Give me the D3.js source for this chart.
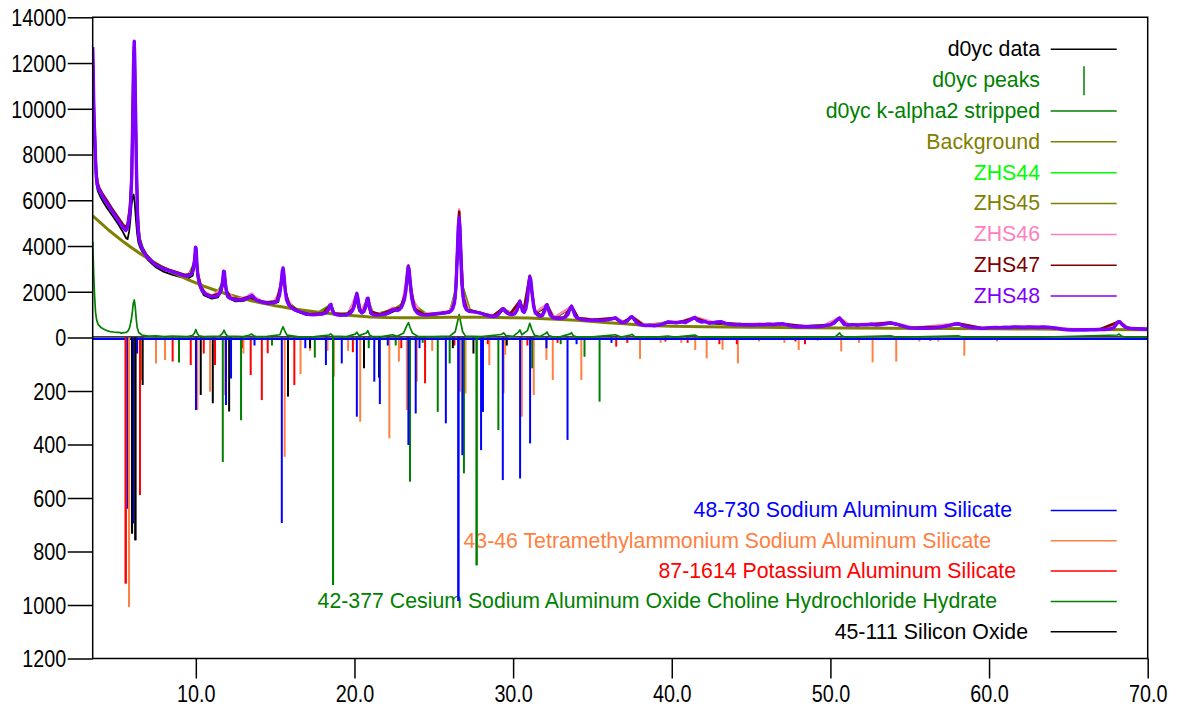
<!DOCTYPE html>
<html>
<head>
<meta charset="utf-8">
<script src="https://cdn.jsdelivr.net/npm/d3@7"></script>
<style>
  html, body { margin: 0; padding: 0; background: #fff; }
  svg { display: block; font-family: "Liberation Sans", Arial, sans-serif; }
</style>
</head>
<body>
<svg id="chart" width="1186" height="707"></svg>
<script>
// ---------- Measured scans: [2-theta, counts] ----------
const zhs48 = [
  [3.50,12700],[3.53,11800],[3.56,10400],[3.60,9300],[3.64,8700],[3.68,7700],[3.72,7100],[3.76,6800],
  [3.82,6600],[3.90,6450],[4.00,6350],[4.05,6300],[4.10,6200],[4.20,6080],[4.30,5960],[4.40,5870],[4.50,5760],
  [4.60,5660],[4.70,5540],[4.80,5450],[4.90,5330],[5.00,5240],[5.10,5130],[5.20,5020],[5.30,4930],
  [5.40,4820],[5.50,4740],[5.58,4680],[5.66,4760],[5.74,4950],[5.80,5250],[5.86,5600],[5.92,6300],
  [5.97,7200],[6.01,9000],[6.05,11000],[6.09,12500],[6.12,12950],[6.15,12200],[6.18,10800],[6.21,9600],
  [6.24,8000],[6.28,6600],[6.32,5500],[6.36,4800],[6.42,4350],[6.50,4080],[6.60,3900],[6.70,3760],
  [6.80,3640],[6.90,3540],[7.00,3470],[7.10,3420],[7.20,3330],[7.30,3290],[7.40,3200],[7.60,3130],[7.80,3060],[8.00,2990],
  [8.20,2950],[8.40,2900],[8.60,2860],[8.80,2810],[9.00,2760],[9.20,2720],[9.40,2680],[9.60,2720],
  [9.75,2800],[9.85,3000],[9.92,3400],[9.98,3950],[10.02,3900],[10.07,3200],[10.13,2700],[10.20,2450],
  [10.30,2220],[10.40,2050],[10.55,1930],[10.70,1860],[10.90,1800],[11.10,1780],[11.30,1800],[11.45,1880],
  [11.58,2050],[11.68,2400],[11.75,2900],[11.80,2880],[11.86,2400],[11.93,2000],[12.00,1820],[12.15,1720],
  [12.30,1680],[12.50,1640],[12.70,1640],[12.90,1650],[13.10,1680],[13.30,1720],[13.45,1800],[13.55,1830],
  [13.65,1760],[13.80,1640],[14.00,1590],[14.20,1550],[14.40,1510],[14.60,1500],[14.80,1510],[15.00,1530],
  [15.15,1620],[15.28,1850],[15.38,2400],[15.45,2900],[15.50,3040],[15.56,2700],[15.63,2100],[15.72,1650],
  [15.85,1440],[16.00,1320],[16.20,1220],[16.40,1160],[16.60,1110],[16.80,1060],[17.00,1020],[17.20,1000],
  [17.40,990],[17.60,1000],[17.80,1020],[18.00,1040],[18.20,1080],[18.35,1200],[18.45,1420],[18.52,1450],
  [18.60,1200],[18.72,1040],[18.90,990],[19.10,970],[19.30,980],[19.50,990],[19.70,1050],[19.85,1150],
  [19.98,1350],[20.08,1750],[20.15,1930],[20.22,1700],[20.32,1250],[20.45,1080],[20.60,1140],[20.72,1350],
  [20.80,1700],[20.86,1720],[20.93,1400],[21.05,1060],[21.20,990],[21.40,980],[21.60,990],[21.80,1010],
  [22.00,1040],[22.20,1100],[22.40,1200],[22.55,1220],[22.70,1180],[22.85,1230],[23.00,1380],[23.15,1650],
  [23.25,2100],[23.32,2700],[23.38,3100],[23.44,3000],[23.52,2400],[23.60,1800],[23.70,1420],[23.82,1200],
  [23.95,1080],[24.10,1020],[24.30,990],[24.50,980],[24.70,990],[24.90,1010],[25.10,1030],[25.30,1050],
  [25.50,1060],[25.70,1080],[25.90,1100],[26.05,1140],[26.18,1240],[26.30,1500],[26.40,2200],[26.48,3600],
  [26.54,4800],[26.60,5250],[26.65,4800],[26.70,3700],[26.76,2500],[26.84,1800],[26.93,1400],[27.05,1220],
  [27.20,1150],[27.40,1130],[27.60,1110],[27.80,1090],[28.00,1050],[28.20,1000],[28.40,960],[28.60,930],
  [28.80,920],[29.00,960],[29.15,1080],[29.30,1230],[29.40,1260],[29.50,1140],[29.65,1050],[29.80,1010],
  [29.95,1000],[30.10,1040],[30.25,1200],[30.35,1450],[30.43,1580],[30.50,1380],[30.60,1150],[30.70,1100],
  [30.80,1250],[30.90,1650],[30.98,2300],[31.05,2650],[31.12,2500],[31.20,1900],[31.30,1350],[31.40,1080],
  [31.55,980],[31.70,930],[31.85,960],[31.98,1150],[32.08,1400],[32.15,1430],[32.23,1200],[32.35,970],
  [32.50,870],[32.70,840],[32.90,830],[33.10,850],[33.30,900],[33.45,1000],[33.58,1250],[33.68,1370],
  [33.78,1200],[33.90,950],[34.05,850],[34.30,790],[34.60,760],[34.90,750],[35.20,760],[35.50,740],
  [35.80,760],[36.10,790],[36.30,830],[36.45,860],[36.60,770],[36.80,660],[37.00,650],[37.20,720],
  [37.40,890],[37.50,910],[37.62,800],[37.80,640],[38.00,560],[38.30,520],[38.60,530],[38.90,510],
  [39.20,540],[39.50,600],[39.75,680],[40.00,660],[40.30,640],[40.60,690],[40.85,650],[41.10,740],
  [41.30,820],[41.45,880],[41.60,760],[41.85,680],[42.10,700],[42.35,620],[42.60,650],[42.85,680],
  [43.10,690],[43.40,620],[43.70,580],[44.00,550],[44.30,570],[44.60,540],[44.90,560],[45.20,540],
  [45.50,570],[45.80,550],[46.10,580],[46.40,560],[46.70,590],[47.00,600],[47.30,540],[47.60,500],
  [47.90,470],[48.20,480],[48.50,470],[48.80,480],[49.10,470],[49.40,480],[49.70,520],[50.00,560],
  [50.25,640],[50.45,800],[50.58,850],[50.70,720],[50.85,580],[51.10,540],[51.40,560],[51.70,530],
  [52.00,560],[52.30,550],[52.60,580],[52.90,540],[53.20,570],[53.50,600],[53.80,640],[54.05,600],
  [54.30,560],[54.60,500],[54.90,430],[55.20,410],[55.50,400],[55.80,410],[56.10,400],[56.40,410],
  [56.70,430],[57.00,460],[57.30,500],[57.60,540],[57.85,590],[58.05,600],[58.30,530],[58.60,470],
  [58.90,440],[59.20,420],[59.50,400],[59.80,410],[60.10,430],[60.40,440],[60.70,430],[61.00,450],
  [61.30,440],[61.60,460],[61.90,450],[62.20,440],[62.50,460],[62.80,450],[63.10,440],[63.40,460],
  [63.70,450],[64.00,430],[64.30,400],[64.60,360],[64.90,340],[65.20,330],[65.50,330],[65.80,340],
  [66.10,330],[66.40,340],[66.70,340],[67.00,350],[67.30,350],[67.60,370],[67.85,420],[68.00,560],
  [68.12,680],[68.25,690],[68.40,560],[68.60,440],[68.90,400],[69.20,380],[69.50,370],[69.80,360],[70.00,360]
];

const zhs47 = [
  [3.5,12400],[3.55,10600],[3.6,9400],[3.66,8200],[3.72,7300],[3.8,6800],[3.9,6550],[4.1,6300],[4.4,5980],
  [4.7,5650],[5.0,5350],[5.3,5050],[5.55,4800],[5.7,4950],[5.85,5700],[5.95,7000],[6.02,9500],[6.08,12200],
  [6.12,12850],[6.17,11500],[6.22,9200],[6.28,6800],[6.35,5000],[6.45,4300],[6.6,3950],[6.9,3600],[7.3,3300],
  [7.8,3100],[8.3,2960],[8.8,2850],[9.3,2730],[9.7,2780],[9.9,3300],[10.0,3900],[10.1,2900],[10.3,2260],
  [10.6,1920],[11.0,1810],[11.5,1920],[11.7,2500],[11.78,2900],[11.9,2100],[12.2,1720],[12.8,1660],[13.4,1790],
  [13.9,1620],[14.5,1530],[15.1,1580],[15.35,2300],[15.5,3000],[15.65,2000],[15.9,1420],[16.5,1140],[17.2,1020],
  [18.0,1060],[18.5,1440],[18.7,1060],[19.5,1010],[19.9,1250],[20.15,1900],[20.35,1200],[20.55,1120],[20.84,1720],
  [21.0,1150],[21.6,1010],[22.4,1230],[22.9,1300],[23.2,1900],[23.4,3150],[23.55,2200],[23.8,1250],[24.4,1000],
  [25.4,1060],[26.1,1160],[26.35,1700],[26.5,4000],[26.6,5500],[26.7,3900],[26.85,1800],[27.1,1200],[27.8,1100],
  [28.7,930],[29.35,1280],[29.8,1020],[30.43,1600],[30.65,1120],[31.05,2700],[31.35,1150],[31.8,950],[32.13,1450],
  [32.5,880],[33.2,860],[33.68,1380],[34.1,850],[35.0,770],[36.4,850],[36.9,660],[37.5,900],[38.2,540],[39.2,540],
  [39.75,690],[40.5,660],[41.45,870],[42.3,650],[43.5,620],[45.0,560],[47.0,600],[48.5,480],[50.0,560],[50.58,860],
  [51.0,550],[52.5,570],[53.8,650],[55.0,420],[57.0,470],[58.05,610],[59.5,410],[61.5,460],[63.5,460],[65.0,340],
  [67.0,360],[68.2,700],[68.7,420],[70,370]
];

const zhs46 = [
  [3.5,12200],[3.56,10200],[3.62,8800],[3.7,7400],[3.8,6700],[4.0,6380],[4.4,5900],[4.8,5480],[5.2,5060],
  [5.55,4760],[5.75,5000],[5.9,6000],[6.0,8800],[6.1,12400],[6.16,11300],[6.25,8000],[6.35,5000],[6.5,4120],
  [6.8,3680],[7.4,3230],[8.0,3010],[8.8,2840],[9.5,2710],[9.85,3000],[10.0,3850],[10.1,2800],[10.4,2080],
  [11.0,1810],[11.6,2100],[11.78,2880],[11.95,1980],[12.5,1680],[13.2,1760],[13.45,1900],[13.55,1920],[13.7,1770],
  [14.2,1580],[14.9,1540],[15.3,2000],[15.5,2980],[15.7,1750],[16.2,1230],[17.0,1030],[18.0,1050],[18.5,1430],
  [18.75,1030],[19.6,1020],[20.15,1920],[20.4,1120],[20.84,1700],[21.1,1060],[21.8,1040],[22.3,1260],[22.5,1300],
  [22.7,1230],[23.0,1400],[23.4,3080],[23.65,1700],[24.2,1030],[25.2,1070],[26.0,1130],[26.35,1800],[26.52,4500],
  [26.6,5600],[26.68,4500],[26.85,1900],[27.2,1200],[28.2,1030],[28.9,950],[29.35,1270],[30.0,1030],[30.43,1600],
  [30.7,1120],[31.05,2650],[31.4,1100],[32.13,1440],[32.6,880],[33.68,1360],[34.1,860],[35.5,770],[36.45,880],
  [37.0,670],[37.5,920],[38.3,550],[39.5,620],[40.6,700],[41.45,900],[42.6,670],[44.0,580],[46.0,600],[47.9,500],
  [49.5,500],[50.58,870],[51.2,560],[53.8,660],[55.3,430],[58.05,620],[59.6,420],[62.0,470],[64.0,450],[65.3,350],
  [67.5,380],[68.2,710],[68.8,420],[70,380]
];

const zhs45 = [
  [3.5,11900],[3.57,9900],[3.65,8300],[3.75,6900],[3.9,6400],[4.3,5920],[4.8,5420],[5.3,4900],[5.6,4650],
  [5.8,5200],[5.95,6800],[6.05,10800],[6.12,12600],[6.2,9800],[6.3,6000],[6.45,4300],[6.8,3620],[7.5,3150],
  [8.5,2870],[9.5,2690],[9.9,3200],[10.0,3800],[10.15,2600],[10.5,1960],[11.2,1780],[11.65,2300],[11.78,2850],
  [11.95,1950],[12.6,1640],[13.5,1800],[14.3,1530],[15.2,1600],[15.5,2950],[15.75,1600],[16.5,1140],[17.5,1000],
  [18.5,1420],[18.8,1000],[19.8,1080],[20.15,1880],[20.4,1100],[20.84,1680],[21.2,1000],[22.4,1200],[23.1,1500],
  [23.4,3050],[23.7,1450],[24.6,990],[26.0,1110],[26.4,2100],[26.6,5150],[26.78,2300],[27.3,1150],[28.7,930],
  [29.4,1250],[30.0,1010],[30.43,1560],[30.7,1100],[31.05,2620],[31.4,1080],[32.13,1410],[32.6,860],[33.68,1340],
  [34.1,840],[35.5,750],[36.45,850],[37.0,650],[37.5,900],[38.3,530],[39.75,670],[40.6,680],[41.45,860],[42.6,650],
  [44.0,560],[46.0,580],[48.0,480],[50.0,550],[50.58,830],[51.0,550],[53.8,630],[55.3,410],[58.05,590],[59.6,410],
  [62.0,450],[64.0,440],[65.3,330],[67.5,360],[68.2,680],[68.8,410],[70,360]
];

const zhs44 = [
  [3.5,12100],[3.57,10000],[3.65,8400],[3.75,6950],[3.9,6420],[4.3,5950],[4.8,5430],[5.3,4920],[5.6,4660],
  [5.8,5300],[5.93,6500],[6.03,10000],[6.11,12700],[6.18,10500],[6.28,6500],[6.4,4500],[6.8,3640],[7.5,3160],
  [8.5,2880],[9.5,2700],[9.9,3250],[10.0,3880],[10.15,2620],[10.5,1970],[11.2,1790],[11.65,2350],[11.78,2880],
  [11.95,1960],[12.6,1650],[13.5,1810],[14.3,1540],[15.2,1610],[15.5,3000],[15.75,1610],[16.5,1150],[17.5,1010],
  [18.5,1440],[18.8,1010],[19.8,1090],[20.15,1900],[20.4,1110],[20.84,1700],[21.2,1010],[22.4,1210],[23.1,1520],
  [23.4,3080],[23.7,1460],[24.6,1000],[26.0,1120],[26.4,2150],[26.6,5200],[26.78,2350],[27.3,1160],[28.7,940],
  [29.4,1260],[30.0,1020],[30.43,1570],[30.7,1110],[31.05,2640],[31.4,1090],[32.13,1420],[32.6,870],[33.68,1350],
  [34.1,850],[35.5,760],[36.45,860],[37.0,660],[37.5,910],[38.3,540],[39.75,680],[40.6,690],[41.45,870],[42.6,660],
  [44.0,570],[46.0,590],[48.0,490],[50.0,560],[50.58,840],[51.0,560],[53.8,640],[55.3,420],[58.05,600],[59.6,420],
  [62.0,460],[64.0,450],[65.3,340],[67.5,370],[68.2,690],[68.8,420],[70,370]
];

const d0ycData = [
  [3.50,12300],[3.54,11000],[3.58,9500],[3.63,8200],[3.68,7300],[3.74,6700],[3.82,6400],[3.95,6200],[4.2,5880],
  [4.5,5560],[4.8,5270],[5.1,4960],[5.4,4620],[5.6,4350],[5.7,4300],[5.8,4650],[5.88,5200],[5.95,5800],[6.02,6150],
  [6.08,6250],[6.15,5900],[6.22,5200],[6.3,4550],[6.38,4150],[6.5,3920],[6.7,3650],[7.0,3370],[7.5,3060],[8.0,2870],
  [8.5,2750],[9.0,2650],[9.5,2580],[9.8,2700],[9.95,3300],[10.02,3400],[10.1,2700],[10.25,2200],[10.5,1850],
  [11.0,1700],[11.4,1760],[11.65,2100],[11.78,2500],[11.85,2300],[12.0,1750],[12.5,1580],[13.0,1600],[13.5,1700],
  [14.0,1520],[14.6,1450],[15.2,1550],[15.4,2300],[15.5,2700],[15.6,2200],[15.8,1450],[16.3,1160],[17.0,980],
  [18.0,1000],[18.5,1350],[18.7,1000],[19.5,950],[20.1,1700],[20.3,1150],[20.5,1050],[20.84,1600],[21.0,1050],
  [22.0,1000],[22.5,1150],[23.0,1300],[23.38,2800],[23.6,1650],[24.0,1050],[25.0,990],[26.0,1080],[26.4,2000],
  [26.6,4900],[26.75,2300],[27.0,1300],[28.0,1030],[28.8,900],[29.4,1200],[30.0,980],[30.43,1500],[30.7,1080],
  [31.05,2500],[31.4,1050],[32.13,1350],[32.6,830],[33.68,1300],[34.0,830],[35.0,740],[36.45,830],[37.0,630],
  [37.5,880],[38.2,520],[39.75,640],[40.6,660],[41.45,830],[42.5,620],[44.0,530],[46.0,560],[48.0,460],[50.0,530],
  [50.58,800],[51.0,530],[53.8,610],[55.5,390],[58.05,570],[59.5,390],[62.0,440],[64.0,420],[65.5,320],[67.5,350],
  [68.2,650],[68.6,420],[70,350]
];

const background = [
  [3.5,5320],[4.0,5010],[4.5,4700],[5.0,4420],[5.5,4150],[6.0,3900],[6.5,3660],[7.0,3440],[7.5,3230],[8.0,3040],
  [8.5,2860],[9.0,2690],[9.5,2530],[10.0,2390],[10.5,2250],[11.0,2120],[11.5,2000],[12.0,1890],[12.5,1790],
  [13.0,1700],[13.5,1610],[14.0,1530],[14.5,1460],[15.0,1390],[15.5,1330],[16.0,1270],[17.0,1170],[18.0,1080],
  [19.0,1010],[20.0,950],[21.0,900],[22.0,870],[23.0,860],[24.0,860],[25.0,870],[26.0,880],[27.0,880],[28.0,880],
  [29.0,870],[30.0,860],[31.0,850],[32.0,820],[33.0,790],[34.0,750],[35.0,700],[36.0,650],[37.0,600],[38.0,550],
  [39.0,510],[40.0,490],[42.0,470],[45.0,450],[48.0,430],[51.0,420],[54.0,400],[57.0,390],[60.0,380],[63.0,370],
  [66.0,350],[70.0,340]
];

const kAlpha2Stripped = [
  [3.5,4200],[3.53,3500],[3.57,2600],[3.62,1800],[3.68,1100],[3.75,760],[3.85,560],[4.0,450],[4.15,380],[4.3,330],
  [4.45,290],[4.6,260],[4.8,240],[5.0,220],[5.15,230],[5.3,190],[5.45,210],[5.6,220],[5.72,280],[5.82,420],[5.92,720],
  [6.0,1120],[6.06,1500],[6.12,1640],[6.18,1350],[6.24,850],[6.3,450],[6.4,220],[6.6,110],[7.0,60],[7.5,70],[8.0,40],
  [8.5,60],[9.0,50],[9.5,40],[9.8,90],[9.92,200],[10.0,350],[10.08,200],[10.2,70],[10.5,40],[11.0,50],[11.5,60],
  [11.68,180],[11.78,320],[11.88,160],[12.0,60],[12.5,50],[13.0,40],[13.4,110],[13.5,150],[13.65,80],[13.8,40],
  [14.5,50],[15.3,120],[15.42,350],[15.5,470],[15.6,300],[15.75,100],[16.5,30],[17.5,40],[18.4,110],[18.5,160],
  [18.65,60],[19.5,40],[20.05,150],[20.15,230],[20.28,80],[20.75,200],[20.84,300],[20.95,110],[21.1,50],[21.7,40],
  [22.4,120],[22.7,50],[23.1,200],[23.3,520],[23.4,650],[23.5,450],[23.65,200],[24.0,50],[25.0,40],[26.0,60],
  [26.35,250],[26.5,700],[26.6,1000],[26.7,650],[26.82,250],[27.0,60],[28.0,40],[29.25,130],[29.4,200],[29.55,80],
  [30.0,50],[30.35,250],[30.43,330],[30.55,120],[30.9,300],[31.05,620],[31.18,350],[31.35,90],[31.7,40],[32.05,180],
  [32.13,240],[32.25,90],[32.5,30],[33.0,40],[33.6,160],[33.68,210],[33.8,70],[34.0,30],[35.0,30],[36.45,120],
  [36.8,20],[37.4,110],[37.5,140],[37.7,20],[39.0,20],[39.75,60],[40.2,20],[41.45,110],[41.7,20],[45.0,15],
  [50.3,30],[50.5,150],[50.58,200],[50.7,90],[50.9,20],[53.8,70],[54.2,10],[58.05,70],[58.4,10],[63.0,10],
  [68.1,110],[68.2,150],[68.35,60],[68.6,10],[70,10]
];

// ---------- Reference patterns: [2-theta, relative intensity] ----------
const pdf48_730 = [
  [5.71,640],[6.06,695],[6.30,60],[10.01,271],[11.90,252],[12.22,153],[13.70,30],[15.42,693],[16.90,40],
  [18.20,103],[19.20,97],[20.15,296],[21.25,165],[21.60,249],[22.10,30],[23.40,402],[23.86,284],[24.10,40],
  [25.76,321],[26.55,985],[26.80,440],[27.98,421],[28.10,278],[29.35,533],[30.44,527],[31.07,396],[32.10,40],
  [33.43,383],[34.00,25],[36.20,20]
];
const pdf43_46 = [
  [5.79,1007],[6.55,159],[7.49,97],[8.06,84],[10.10,271],[10.90,203],[11.85,215],[13.00,60],[15.60,446],
  [16.60,137],[17.20,50],[18.30,50],[18.70,146],[19.60,50],[20.36,315],[22.20,377],[22.80,90],[23.30,271],
  [23.93,165],[24.90,50],[26.65,203],[27.00,209],[28.50,103],[29.40,209],[29.50,65],[30.55,296],[31.30,215],
  [32.10,84],[32.50,159],[34.30,159],[38.00,80],[39.30,20],[40.60,20],[41.48,47],[42.20,78],[43.20,46],
  [44.17,97],[45.50,15],[47.10,20],[48.00,47],[49.20,12],[50.68,52],[51.80,20],[52.66,93],[54.15,90],
  [55.60,15],[56.80,15],[58.44,68],[60.50,15]
];
const pdf87_1614 = [
  [5.58,920],[6.48,589],[8.54,90],[9.68,103],[10.50,60],[11.21,103],[12.90,40],[13.46,140],[14.16,234],
  [14.53,59],[16.21,178],[19.90,55],[22.95,40],[24.45,171],[26.30,30],[28.40,25],[30.90,30],[32.80,20],
  [36.50,34],[37.20,20],[39.60,15],[41.00,20],[43.00,25],[44.10,25],[47.80,15],[48.40,25],[56.30,12]
];
const pdf42_377 = [
  [8.94,93],[11.70,465],[12.85,309],[14.80,30],[17.50,75],[18.65,925],[20.90,40],[22.60,30],[23.50,539],
  [24.30,20],[25.25,278],[26.00,97],[26.90,508],[27.70,851],[29.07,346],[31.20,115],[33.00,25],[34.50,72],
  [35.45,240]
];
const pdf45_111 = [
  [5.98,733],[6.19,758],[6.65,178],[10.31,215],[11.07,246],[12.10,277],[15.81,221],[17.20,40],[20.60,115],
  [21.55,150],[26.20,40],[27.50,60],[29.60,30]
];

// ---------- Axis tick values ----------
const xTicks = [10, 20, 30, 40, 50, 60, 70];
const countTicks = [0, 2000, 4000, 6000, 8000, 10000, 12000, 14000];
const refTicks = [200, 400, 600, 800, 1000, 1200];

// ---------- Legends ----------
const scanLegend = [
  { name: "d0yc data", color: "#000000", kind: "line" },
  { name: "d0yc peaks", color: "#008000", kind: "tick" },
  { name: "d0yc k-alpha2 stripped", color: "#008000", kind: "line" },
  { name: "Background", color: "#808000", kind: "line" },
  { name: "ZHS44", color: "#00FF00", kind: "line" },
  { name: "ZHS45", color: "#808000", kind: "line" },
  { name: "ZHS46", color: "#FF80C0", kind: "line" },
  { name: "ZHS47", color: "#800000", kind: "line" },
  { name: "ZHS48", color: "#8000FF", kind: "line" }
];
const refLegend = [
  { name: "48-730 Sodium Aluminum Silicate", color: "#0000FF" },
  { name: "43-46 Tetramethylammonium Sodium Aluminum Silicate", color: "#FF8040" },
  { name: "87-1614 Potassium Aluminum Silicate", color: "#FF0000" },
  { name: "42-377 Cesium Sodium Aluminum Oxide Choline Hydrochloride Hydrate", color: "#008000" },
  { name: "45-111 Silicon Oxide", color: "#000000" }
];
// right edge of each pattern label (the program places them unevenly)
const refLegendTextEnd = [1012, 991, 1016, 997, 1028];

// ---------- Layout ----------
const svg = d3.select("#chart");
const L = 92.7, R = 1147.7, T = 17.3, Z = 337.5, B = 658.5;

const x = d3.scaleLinear().domain([3.5, 70]).range([L, R]);
const yCounts = d3.scaleLinear().domain([0, 14000]).range([Z, T]);
const yRef = d3.scaleLinear().domain([0, 1200]).range([Z, B]);

svg.append("defs").append("clipPath").attr("id", "plotClip")
  .append("rect").attr("x", L).attr("y", T).attr("width", R - L).attr("height", B - T);

const plot = svg.append("g").attr("clip-path", "url(#plotClip)");

// reference sticks hanging below zero
const sticks = [
  { data: pdf43_46, color: "#FF8040" },
  { data: pdf87_1614, color: "#FF0000" },
  { data: pdf42_377, color: "#008000" },
  { data: pdf45_111, color: "#000000" },
  { data: pdf48_730, color: "#0000FF" }
];
sticks.forEach(s => {
  plot.append("g").selectAll("line").data(s.data).join("line")
    .attr("x1", d => x(d[0])).attr("x2", d => x(d[0]))
    .attr("y1", yRef(0)).attr("y2", d => yRef(d[1]))
    .attr("stroke", s.color).attr("stroke-width", 2);
});

// zero lines
plot.append("line").attr("x1", L).attr("x2", R).attr("y1", Z + 1.3).attr("y2", Z + 1.3)
  .attr("stroke", "#0000FF").attr("stroke-width", 2.2);
plot.append("line").attr("x1", L).attr("x2", R).attr("y1", Z - 0.6).attr("y2", Z - 0.6)
  .attr("stroke", "#000000").attr("stroke-width", 1.4);

// scans
const line = d3.line().x(d => x(d[0])).y(d => yCounts(d[1]));
const scans = [
  { data: kAlpha2Stripped, color: "#008000", w: 1.7 },
  { data: d0ycData, color: "#000000", w: 1.8 },
  { data: background, color: "#808000", w: 3 },
  { data: zhs44, color: "#00FF00", w: 2 },
  { data: zhs45, color: "#808000", w: 2 },
  { data: zhs46, color: "#FF80C0", w: 2.4 },
  { data: zhs47, color: "#800000", w: 2.6 },
  { data: zhs48, color: "#8000FF", w: 3.4 }
];
scans.forEach(s => {
  plot.append("path").datum(s.data).attr("d", line)
    .attr("fill", "none").attr("stroke", s.color).attr("stroke-width", s.w)
    .attr("stroke-linejoin", "round");
});

// frame
svg.append("path")
  .attr("d", `M${L},${B}V${T}H${R}V${B}Z`)
  .attr("fill", "none").attr("stroke", "#000").attr("stroke-width", 1.5);

// axes
const tickFont = g => g.selectAll("text")
  .attr("font-family", "'Liberation Sans', Arial, sans-serif")
  .attr("font-size", 23).attr("fill", "#000");

const gCounts = svg.append("g").attr("transform", `translate(${L},0)`)
  .call(d3.axisLeft(yCounts).tickValues(countTicks).tickSize(25).tickFormat(d3.format("d")));
const gRef = svg.append("g").attr("transform", `translate(${L},0)`)
  .call(d3.axisLeft(yRef).tickValues(refTicks).tickSize(25).tickFormat(d3.format("d")));
[gCounts, gRef].forEach(g => {
  g.select(".domain").remove();
  g.selectAll(".tick line").attr("stroke", "#000").attr("stroke-width", 1.5);
  g.call(tickFont);
  g.selectAll("text").attr("x", null).attr("dy", null)
    .attr("transform", "translate(-26.5,8.3) scale(0.86,1)")
    .attr("text-anchor", "end");
});

const gX = svg.append("g").attr("transform", `translate(0,${B})`)
  .call(d3.axisBottom(x).tickValues(xTicks).tickSize(20).tickFormat(d3.format(".1f")));
gX.select(".domain").remove();
gX.selectAll(".tick line").attr("stroke", "#000").attr("stroke-width", 1.5);
gX.call(tickFont);
gX.selectAll("text").attr("y", null).attr("dy", null)
  .attr("transform", "translate(0,43.5) scale(0.86,1)")
  .attr("text-anchor", "middle");

// scan legend
const lgTop = svg.append("g").attr("font-size", 21.3);
scanLegend.forEach((d, i) => {
  const yy = 49.3 + i * 30.85;
  lgTop.append("text").attr("x", 1040).attr("y", yy + 6.9)
    .attr("text-anchor", "end").attr("fill", d.color).text(d.name);
  if (d.kind === "tick") {
    lgTop.append("line").attr("x1", 1084).attr("x2", 1084).attr("y1", yy - 14).attr("y2", yy + 15)
      .attr("stroke", d.color).attr("stroke-width", 1.5);
  } else {
    lgTop.append("line").attr("x1", 1050.7).attr("x2", 1116.7).attr("y1", yy).attr("y2", yy)
      .attr("stroke", d.color).attr("stroke-width", 1.5);
  }
});

// reference pattern legend
const lgBot = svg.append("g").attr("font-size", 21.3);
refLegend.forEach((d, i) => {
  const yy = 510.5 + i * 30.3;
  lgBot.append("text").attr("x", refLegendTextEnd[i]).attr("y", yy + 6.9)
    .attr("text-anchor", "end").attr("fill", d.color).text(d.name);
  lgBot.append("line").attr("x1", 1050.7).attr("x2", 1116.7).attr("y1", yy).attr("y2", yy)
    .attr("stroke", d.color).attr("stroke-width", 1.5);
});

// sticks crossing the legend text are drawn above it
sticks.forEach(s => {
  svg.append("g").attr("clip-path", "url(#plotClip)").selectAll("line")
    .data(s.data.filter(d => d[1] > 700)).join("line")
    .attr("x1", d => x(d[0])).attr("x2", d => x(d[0]))
    .attr("y1", yRef(0)).attr("y2", d => yRef(d[1]))
    .attr("stroke", s.color).attr("stroke-width", 2);
});
</script>
</body>
</html>
